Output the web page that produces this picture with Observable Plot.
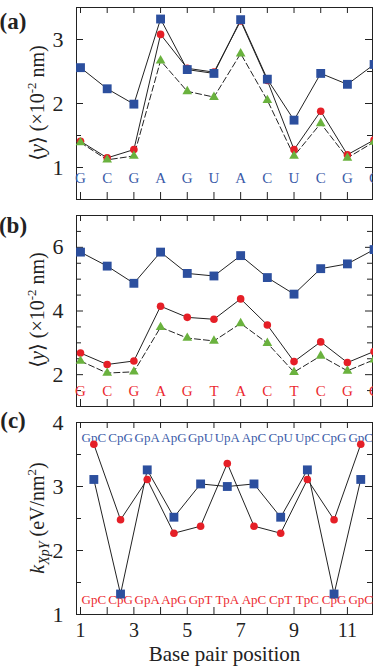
<!DOCTYPE html>
<html><head><meta charset="utf-8">
<script src="https://cdn.jsdelivr.net/npm/d3@7"></script>
<script src="https://cdn.jsdelivr.net/npm/@observablehq/plot@0.6"></script>
<style>body{margin:0;background:#fff;} svg{display:block;}</style>
</head><body><div id="chart"></div>
<script>
// ---------- data ----------
const positions = [1,2,3,4,5,6,7,8,9,10,11,12];
const seqRNA = ["G","C","G","A","G","U","A","C","U","C","G","C"];
const seqDNA = ["G","C","G","A","G","T","A","C","T","C","G","C"];
const aSquares   = [2.56,2.23,1.99,3.32,2.53,2.47,3.31,2.38,1.74,2.47,2.30,2.61];
const aCircles   = [1.41,1.15,1.28,3.08,2.55,2.49,3.29,2.36,1.28,1.88,1.20,1.43];
const aTriangles = [1.39,1.12,1.18,2.67,2.19,2.10,2.78,2.05,1.18,1.69,1.15,1.40];
const bSquares   = [5.85,5.41,4.87,5.85,5.18,5.10,5.74,5.05,4.53,5.33,5.48,5.93];
const bCircles   = [2.68,2.32,2.43,4.15,3.80,3.74,4.38,3.56,2.41,3.03,2.38,2.73];
const bTriangles = [2.43,2.05,2.09,3.49,3.15,3.06,3.61,2.99,2.08,2.59,2.12,2.47];
const stepPositions = [1.5,2.5,3.5,4.5,5.5,6.5,7.5,8.5,9.5,10.5,11.5];
const stepsRNA = ["GpC","CpG","GpA","ApG","GpU","UpA","ApC","CpU","UpC","CpG","GpC"];
const stepsDNA = ["GpC","CpG","GpA","ApG","GpT","TpA","ApC","CpT","TpC","CpG","GpC"];
const cSquares = [3.11,1.32,3.26,2.52,3.04,3.00,3.04,2.52,3.26,1.32,3.11];
const cCircles = [3.66,2.48,3.11,2.27,2.38,3.36,2.38,2.27,3.11,2.48,3.66];
const xTicks = [1,2,3,4,5,6,7,8,9,10,11,12];
const xTickLabels = [1,3,5,7,9,11];
const yTicksA = [1,2,3];
const yMinorA = [1.5,2.5];
const yTicksB = [2,4,6];
const yMinorB = [1.5,2.5,3,3.5,4.5,5,5.5,6.5];
const yTicksC = [1,2,3,4];
const yMinorC = [1.5,2.5,3.5];

// ---------- style ----------
const SERIF = "'Liberation Serif', 'Times New Roman', Times, Tinos, 'Nimbus Roman', 'DejaVu Serif', serif";
const BLUE = "#2c4f9e", RED = "#e51f27", GREEN = "#6ab23e";
const BLUE_TXT = "#3b5ba8", RED_TXT = "#ec2a30";
const INK = "#222";
const W = 373, ML = 76, MR = 1;
const FW = W - ML - MR;
const XDOM = [0.85, 11.94];
const intFmt = d3.format("d");

function tickMarks(major, minor, frameH) {
  return [
    Plot.tickX(xTicks, {x: d => d, insetBottom: frameH - 6, stroke: INK}),
    Plot.tickX(xTicks, {x: d => d, insetTop: frameH - 7, stroke: INK}),
    Plot.tickY(major, {y: d => d, insetRight: FW - 7, stroke: INK}),
    Plot.tickY(minor, {y: d => d, insetRight: FW - 5, stroke: INK}),
    Plot.tickY(major, {y: d => d, insetLeft: FW - 7, stroke: INK}),
    Plot.tickY(minor, {y: d => d, insetLeft: FW - 5, stroke: INK})
  ];
}

function seriesMarks(xs, sq, ci, tr) {
  const m = [];
  m.push(Plot.line(ci, {x: xs, y: d => d, stroke: INK, strokeWidth: 1}));
  if (tr) m.push(Plot.line(tr, {x: xs, y: d => d, stroke: INK, strokeWidth: 1, strokeDasharray: "6,3"}));
  m.push(Plot.line(sq, {x: xs, y: d => d, stroke: INK, strokeWidth: 1}));
  m.push(Plot.dot(ci, {x: xs, y: d => d, symbol: "circle", r: 3.8, fill: RED}));
  if (tr) m.push(Plot.dot(tr, {x: xs, y: d => d, symbol: "triangle", r: 3.6, fill: GREEN}));
  m.push(Plot.dot(sq, {x: xs, y: d => d, symbol: "square", r: 5, fill: BLUE}));
  return m;
}

function yLabel(svg, cx, cy, build) {
  const t = d3.select(svg).append("text")
    .attr("transform", `translate(${cx},${cy}) rotate(-90)`)
    .attr("text-anchor", "middle")
    .attr("font-family", SERIF).attr("font-size", 20).attr("fill", INK);
  build(t);
}
function panelTag(svg, y, s) {
  d3.select(svg).append("text").attr("x", 13).attr("y", y)
    .attr("font-family", SERIF).attr("font-size", 23).attr("font-weight", "bold")
    .attr("fill", INK).text(s);
}
function nmLabel(t) {
  t.append("tspan").text("\u27E8");
  t.append("tspan").attr("font-style", "italic").text("y");
  t.append("tspan").text("\u27E9 (\u00D710");
  t.append("tspan").attr("font-size", 13).attr("dy", -8).text("-2");
  t.append("tspan").attr("dy", 8).text(" nm)");
}

const style = {fontFamily: SERIF, fontSize: "22px", color: INK, background: "#fff"};
const chart = document.getElementById("chart");

// ---------- panel (a) ----------
{
  const H = 201, MT = 7, MB = 2;
  const p = Plot.plot({
    width: W, height: H, marginLeft: ML, marginRight: MR, marginTop: MT, marginBottom: MB,
    style,
    x: {domain: XDOM, axis: null},
    y: {domain: [0.5, 3.5]},
    marks: [
      Plot.frame({stroke: INK, strokeWidth: 1}),
      ...tickMarks(yTicksA, yMinorA, H - MT - MB),
      Plot.axisY({ticks: yTicksA, tickFormat: intFmt, tickSize: 0, tickPadding: 13, label: null}),
      Plot.text(seqRNA, {x: positions, frameAnchor: "bottom", dy: -17, fill: BLUE_TXT, fontSize: 15}),
      ...seriesMarks(positions, aSquares, aCircles, aTriangles)
    ]
  });
  yLabel(p, 44, 103, nmLabel);
  panelTag(p, 29, "(a)");
  chart.appendChild(p);
}

// ---------- panel (b) ----------
{
  const H = 207, MT = 14, MB = 2;
  const p = Plot.plot({
    width: W, height: H, marginLeft: ML, marginRight: MR, marginTop: MT, marginBottom: MB,
    style,
    x: {domain: XDOM, axis: null},
    y: {domain: [1, 7]},
    marks: [
      Plot.frame({stroke: INK, strokeWidth: 1}),
      ...tickMarks(yTicksB, yMinorB, H - MT - MB),
      Plot.axisY({ticks: yTicksB, tickFormat: intFmt, tickSize: 0, tickPadding: 13, label: null}),
      Plot.text(seqDNA, {x: positions, frameAnchor: "bottom", dy: -11, fill: RED_TXT, fontSize: 15}),
      ...seriesMarks(positions, bSquares, bCircles, bTriangles)
    ]
  });
  yLabel(p, 44, 109, nmLabel);
  panelTag(p, 32, "(b)");
  chart.appendChild(p);
}

// ---------- panel (c) ----------
{
  const H = 262, MT = 14, MB = 56;
  const p = Plot.plot({
    width: W, height: H, marginLeft: ML, marginRight: MR, marginTop: MT, marginBottom: MB,
    style,
    x: {domain: XDOM},
    y: {domain: [1, 4]},
    marks: [
      Plot.frame({stroke: INK, strokeWidth: 1}),
      ...tickMarks(yTicksC, yMinorC, H - MT - MB),
      Plot.axisY({ticks: yTicksC, tickFormat: intFmt, tickSize: 0, tickPadding: 13, label: null}),
      Plot.axisX({ticks: xTickLabels, tickFormat: intFmt, tickSize: 0, tickPadding: 8, fontSize: 20, label: null}),
      Plot.text(["Base pair position"], {frameAnchor: "bottom", dy: 46, fontSize: 21, fill: INK}),
      Plot.text(stepsRNA, {x: stepPositions, frameAnchor: "top", dy: 10, fill: BLUE_TXT, fontSize: 13}),
      Plot.text(stepsDNA, {x: stepPositions, frameAnchor: "bottom", dy: -11, fill: RED_TXT, fontSize: 13}),
      ...seriesMarks(stepPositions, cSquares, cCircles, null)
    ]
  });
  yLabel(p, 44, 110, t => {
    t.append("tspan").attr("font-style", "italic").text("k");
    t.append("tspan").attr("font-style", "italic").attr("font-size", 14).attr("dy", 5).text("XpY");
    t.append("tspan").attr("dy", -5).text(" (eV/nm");
    t.append("tspan").attr("font-size", 13).attr("dy", -8).text("2");
    t.append("tspan").attr("dy", 8).text(")");
  });
  panelTag(p, 20, "(c)");
  chart.appendChild(p);
}
</script>
</body></html>
